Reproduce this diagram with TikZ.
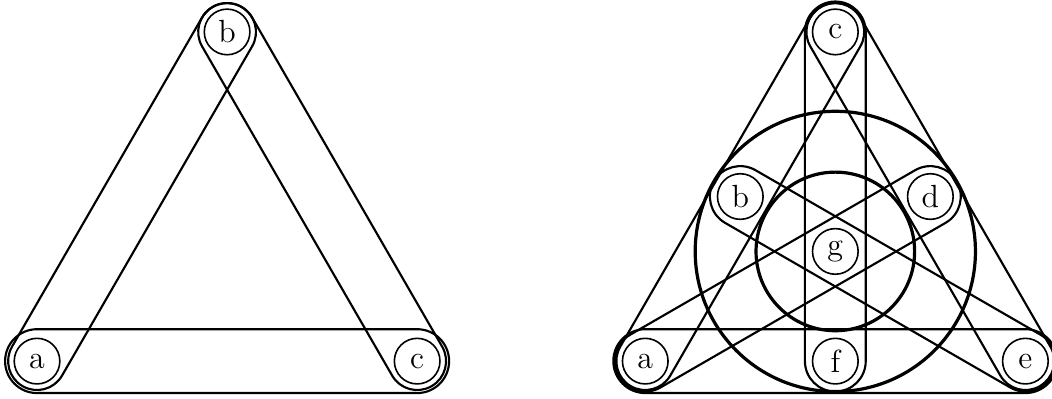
\documentclass[tikz,border=0pt]{standalone}
\usepackage{amsmath,amssymb}
\usepackage{tikz}
\usetikzlibrary{calc,positioning}

\tikzset{
  vertex/.style={draw,circle,semithick,minimum size=0.6cm,inner sep=0pt,font=\large},
  hyperedge/.style={thick},
  ring/.style={very thick}
}

% stadium round two vertices: from, to, radius
\newcommand{\hedge}[3]{%
  \draw[hyperedge] let \p1=($(#2.center)-(#1.center)$), \n1={atan2(\y1,\x1)} in
    ($(#1.center)+(\n1+90:#3)$) arc[start angle=\n1+90, delta angle=180, radius=#3]
    -- ($(#2.center)+(\n1-90:#3)$) arc[start angle=\n1-90, delta angle=180, radius=#3]
    -- cycle;}

\begin{document}
\begin{tikzpicture}

\useasboundingbox (-0.487,-0.487) rectangle (13.35,4.75);

% Triangle
\node[vertex] (la) at (0,0) {a};
\node[vertex] (lc) at (5,0) {c};
\node[vertex] (lb) at (2.5,4.33) {b};

\hedge{la}{lb}{0.38}
\hedge{lb}{lc}{0.38}
\hedge{la}{lc}{0.42}

% Fano plane
\node[vertex] (ra) at (8,0) {a};
\node[vertex] (rf) at (10.5,0) {f};
\node[vertex] (re) at (13,0) {e};
\node[vertex] (rb) at (9.25,2.165) {b};
\node[vertex] (rd) at (11.75,2.165) {d};
\node[vertex] (rc) at (10.5,4.33) {c};
\node[vertex] (rg) at (10.5,1.443) {g};

\hedge{ra}{rc}{0.38}
\hedge{rc}{re}{0.38}
\hedge{ra}{re}{0.42}
\hedge{rc}{rf}{0.40}
\hedge{ra}{rd}{0.40}
\hedge{re}{rb}{0.40}

% b, d, f
\draw[ring] (rg) circle (1.043);
\draw[ring] (rg) circle (1.843);

\end{tikzpicture}
\end{document}
